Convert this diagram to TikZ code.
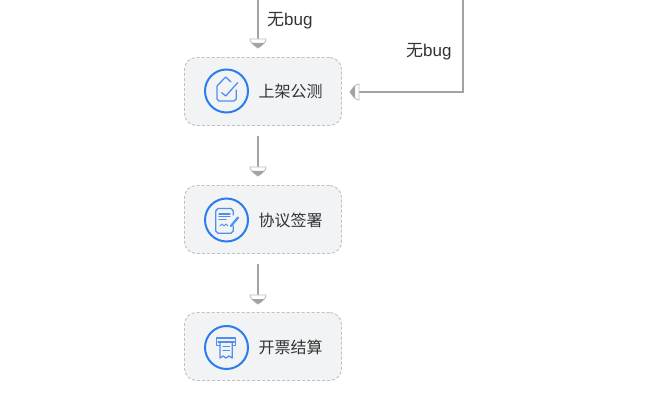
\documentclass[tikz,border=0pt]{standalone}
\usepackage{fontspec}
\setmainfont{Liberation Sans}
\newfontfamily\cjk{Noto Sans CJK SC}
\definecolor{edgegray}{HTML}{A3A3A3}
\definecolor{boxfill}{HTML}{F2F3F5}
\definecolor{boxline}{HTML}{C0C0C0}
\definecolor{ringblue}{HTML}{2A7CF0}
\definecolor{iconblue}{HTML}{4F8FF0}
\definecolor{textcol}{HTML}{333333}
\tikzset{
  stepbox/.style={draw=boxline,fill=boxfill,dash pattern=on 3pt off 2pt,line width=.9pt,rounded corners=12pt,minimum width=157pt,minimum height=68pt,inner sep=0pt},
  ring/.style={draw=ringblue,line width=2pt,circle,minimum size=43pt,inner sep=0pt,fill=none},
  steplabel/.style={font=\cjk\fontsize{16}{18}\selectfont,text=textcol,inner sep=0pt},
  edgelabel/.style={font=\fontsize{17}{19}\selectfont,text=textcol,inner sep=0pt},
  conn/.style={draw=edgegray,line width=1.7pt},
  icon/.style={draw=iconblue,line width=1.3pt,line join=round,line cap=round},
  headline/.style={draw=boxline,line width=.9pt,fill=white},
}
\newcommand{\headshape}{%
    \path[headline] (-8,-9) -- (8,-9) .. controls (8,-5) and (3,-2) .. (0,0) .. controls (-3,-2) and (-8,-5) .. (-8,-9) -- cycle;
    \fill[edgegray] (-6.3,-5) -- (6.3,-5) .. controls (4,-2.8) and (2,-1.2) .. (0,0) .. controls (-2,-1.2) and (-4,-2.8) .. (-6.3,-5) -- cycle;}
\begin{document}
\begin{tikzpicture}[x=1pt,y=-1pt]
\useasboundingbox (0,0) rectangle (655,403);
\fill[white] (0,0) rectangle (655,403);
% boxes
\node[stepbox] (b1) at (263,91.5) {};
\node[stepbox] (b2) at (263,219.5) {};
\node[stepbox] (b3) at (263,346.5) {};
% rings
\node[ring] (r1) at (226.5,91) {};
\node[ring] (r2) at (226.5,220) {};
\node[ring] (r3) at (226.5,347.5) {};
% labels
\node[steplabel,anchor=west] (t1) at (258.5,91) {上架公测};
\node[steplabel,anchor=west] (t2) at (258.5,220.5) {协议签署};
\node[steplabel,anchor=west] (t3) at (258.5,347) {开票结算};
\node[edgelabel,anchor=west] (e1) at (267,20.5) {{\cjk 无}bug};
\node[edgelabel,anchor=west] (e2) at (406,51.5) {{\cjk 无}bug};
% connector end points
\coordinate (s1) at (258,0);
\coordinate (h1) at (258,48);
\coordinate (s2) at (258,136);
\coordinate (h2) at (258,176);
\coordinate (s3) at (258,264);
\coordinate (h3) at (258,304);
\coordinate (s4) at (463,0);
\coordinate (k4) at (463,92);
\coordinate (h4) at (350,92);
% connectors
\draw[conn] (s1) -- ([yshift=9pt]h1);
\draw[conn] (s2) -- ([yshift=9pt]h2);
\draw[conn] (s3) -- ([yshift=9pt]h3);
\draw[conn] (s4) -- (k4) -- ([xshift=9pt]h4);
\begin{scope}[shift={(h1)}]\headshape\end{scope}
\begin{scope}[shift={(h2)}]\headshape\end{scope}
\begin{scope}[shift={(h3)}]\headshape\end{scope}
\begin{scope}[shift={(h4)},rotate=-90]\headshape\end{scope}
% icon 1
\draw[icon] (231,82) -- (225.7,77) -- (217,86) -- (217,99) -- (219,101) -- (234,101) -- (236.3,99) -- (236.3,90);
\draw[icon] (221.7,92.7) -- (225.7,96) -- (237.7,82.7);
% icon 2
\draw[icon] (233.3,215) -- (233.3,211) -- (231,208.5) -- (218,208.5) -- (215.7,211) -- (215.7,231) -- (218,233.3) -- (231,233.3) -- (233.3,231) -- (233.3,226);
\draw[icon] (219,214) -- (230,214) (219,216.8) -- (230,216.8) (219,219.6) -- (226,219.6);
\draw[icon,line width=.8pt] (220,226) -- (222,224) -- (224,226) -- (226,224) -- (228,226);
\draw[icon,line width=2.2pt] (231,226) -- (238,217.5);
% icon 3
\draw[icon] (220,345.3) -- (216.7,345.3) -- (216.7,338) -- (235.7,338) -- (235.7,345.3) -- (232.3,345.3);
\draw[icon] (218,342) -- (234.5,342);
\draw[icon] (220,342) -- (220,358) -- (223,356) -- (226,358) -- (229,356) -- (232.3,358) -- (232.3,342);
\draw[icon] (223,346.7) -- (229.5,346.7) (223,350.7) -- (229.5,350.7);
\end{tikzpicture}
\end{document}
